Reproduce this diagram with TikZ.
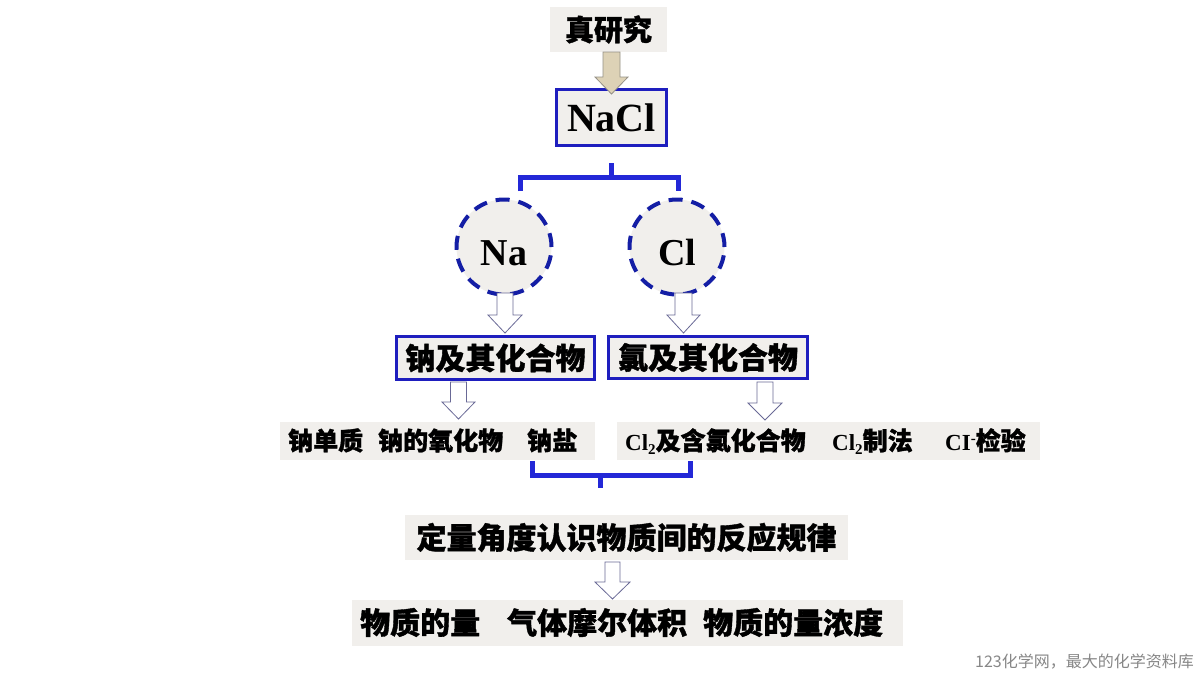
\documentclass[tikz,border=0pt]{standalone}
\usepackage{fontspec}
\setmainfont{Liberation Serif}
\newfontfamily\cjk{Noto Sans CJK SC}[BoldFeatures={FakeBold=1.2}]
\definecolor{bandgray}{RGB}{241,239,236}
\definecolor{boxblue}{RGB}{30,30,190}
\definecolor{brblue}{RGB}{35,40,215}
\definecolor{circblue}{RGB}{20,30,165}
\definecolor{arrowedge}{RGB}{105,105,150}
\definecolor{beige}{RGB}{221,210,182}
\definecolor{beigeedge}{RGB}{150,145,135}
\definecolor{wmgray}{RGB}{135,135,135}
\newcommand\cjkfs[1]{\fontsize{#1}{#1}\selectfont\cjk\bfseries}
\newcommand\latfs[1]{\fontsize{#1}{#1}\selectfont\bfseries}
\newcommand\subtwo{\raisebox{-4pt}{\fontsize{15}{15}\selectfont\bfseries 2}}
\newcommand\supminus{\raisebox{7pt}{\fontsize{15}{15}\selectfont\bfseries -}}
\newcommand\dnarrow[7][hollowarrow]{%
  \draw[#1] ({#2-#6},#3) -- ({#2+#6},#3) -- ({#2+#6},#4) -- ({#2+#7},#4)
    -- (#2,#5) -- ({#2-#7},#4) -- ({#2-#6},#4) -- cycle;}
\tikzset{
  band/.style={fill=bandgray, draw=none, inner sep=0pt},
  bluebox/.style={fill=bandgray, draw=boxblue, line width=3pt, inner sep=0pt},
  elem/.style={circle, fill=bandgray, draw=circblue, line width=4pt,
    dash pattern=on 14pt off 9pt, minimum size=95pt, inner sep=0pt},
  elemtext/.style={inner sep=0pt, anchor=base},
  lbl/.style={inner sep=0pt, anchor=base west, text=black},
  bracket/.style={draw=brblue, line width=5pt},
  hollowarrow/.style={fill=white, draw=arrowedge, line width=0.8pt, line join=miter},
  beigearrow/.style={fill=beige, draw=beigeedge, line width=0.8pt, line join=miter},
}
\begin{document}
\begin{tikzpicture}[x=1pt,y=-1pt]
\useasboundingbox (0,0) rectangle (1200,675);
\fill[white] (0,0) rectangle (1200,675);

% top
\node[band, minimum width=117pt, minimum height=45pt] (yan) at (608.5,29.5) {\cjkfs{29}真研究};
\node[bluebox, minimum width=110pt, minimum height=56pt] (nacl) at (611.5,117.5) {\latfs{40}NaCl};
\dnarrow[beigearrow]{611.5}{52}{77}{94}{8.5}{16.5}

% upper bracket
\coordinate (tstub) at (611,163);
\coordinate (tmid) at (611,177);
\coordinate (tl) at (520,177);
\coordinate (tr) at (678,177);
\coordinate (tlb) at (520,191);
\coordinate (trb) at (678,191);
\draw[bracket] (tlb) -- (tl) -- (tr) -- (trb);
\draw[bracket] (tstub) -- (tmid);

% element circles
\node[elem] (na) at (504,247) {};
\node[elem] (cl) at (677,247) {};
\node[elemtext] (natext) at (504,265) {\latfs{38}Na};
\node[elemtext] (cltext) at (677,265) {\latfs{38}Cl};
\dnarrow{505}{293}{315}{333}{8}{17}
\dnarrow{683.5}{293}{315}{333}{8.5}{16.5}

% compound boxes
\node[bluebox, minimum width=198pt, minimum height=43pt] (nab) at (495.5,358) {\cjkfs{30}钠及其化合物};
\node[bluebox, minimum width=199pt, minimum height=42pt] (clb) at (708,357.5) {\cjkfs{30}氯及其化合物};
\dnarrow{458.5}{382}{402}{419}{8}{16.5}
\dnarrow{765}{382}{403}{420}{8}{17}

% row 1 bands
\node[band, minimum width=315pt, minimum height=38pt] (bandl) at (437.5,441) {};
\node[band, minimum width=423pt, minimum height=38pt] (bandr) at (828.5,441) {};
\node[lbl] (n1) at (288,450) {\cjkfs{25}钠单质};
\node[lbl] (n2) at (378,450) {\cjkfs{25}钠的氧化物};
\node[lbl] (n3) at (527,450) {\cjkfs{25}钠盐};
\node[lbl] (c1) at (625,450) {\latfs{23}Cl\subtwo{\cjkfs{25}及含氯化合物}};
\node[lbl] (c2) at (832,450) {\latfs{23}Cl\subtwo{\cjkfs{25}制法}};
\node[lbl] (c3) at (945,450) {\latfs{23}CI\supminus{\cjkfs{25}检验}};

% lower bracket
\coordinate (bl) at (532,461);
\coordinate (blc) at (532,475);
\coordinate (brc) at (690,475);
\coordinate (br) at (690,461);
\coordinate (bmid) at (600,475);
\coordinate (bstub) at (600,488);
\draw[bracket] (bl) -- (blc) -- (brc) -- (br);
\draw[bracket] (bmid) -- (bstub);

% quantitative
\node[band, minimum width=443pt, minimum height=45pt] (quant) at (626.5,537.5) {\cjkfs{30}定量角度认识物质间的反应规律};
\dnarrow{612.5}{562}{582}{599}{7.5}{17.5}
\node[band, minimum width=551pt, minimum height=46pt] (bandb) at (627.5,623) {};
\node[lbl] (q1) at (360,634) {\cjkfs{30}物质的量};
\node[lbl] (q2) at (507,634) {\cjkfs{30}气体摩尔体积};
\node[lbl] (q3) at (703,634) {\cjkfs{30}物质的量浓度};

% watermark
\node[lbl, text=wmgray] (wm) at (975,667) {\fontsize{16}{16}\selectfont\cjk 123化学网，最大的化学资料库};
\end{tikzpicture}
\end{document}
